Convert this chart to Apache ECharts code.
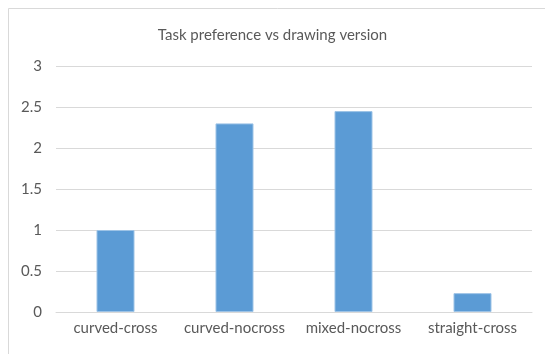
<!DOCTYPE html>
<html>
<head>
<meta charset="utf-8">
<script src="https://cdn.jsdelivr.net/npm/echarts@6/dist/echarts.min.js"></script>
<style>
  html, body { margin: 0; padding: 0; background: #fff; }
  #chart { width: 545px; height: 354px; }
</style>
</head>
<body>
<div id="chart"></div>
<script>
const categories = ['curved-cross', 'curved-nocross', 'mixed-nocross', 'straight-cross'];
const preference = [1.0, 2.3, 2.45, 0.23];
const yTicks = { min: 0, max: 3, interval: 0.5 };

const chart = echarts.init(document.getElementById('chart'));
chart.setOption({
  animation: false,
  backgroundColor: '#fff',
  graphic: [{
    type: 'rect',
    shape: { x: 8.5, y: 8.5, width: 560, height: 360 },
    style: { fill: 'none', stroke: '#d9d9d9', lineWidth: 1 },
    silent: true
  }],
  title: {
    text: 'Task preference vs drawing version',
    left: 'center',
    top: 23,
    textStyle: { fontFamily: 'Lato', fontSize: 15, fontWeight: 'normal', color: '#595959' }
  },
  grid: { left: 56, right: 13, top: 66, bottom: 42 },
  xAxis: {
    type: 'category',
    data: categories,
    axisLine: { lineStyle: { color: '#d9d9d9' } },
    axisTick: { show: false },
    axisLabel: { interval: 0, hideOverlap: false, fontFamily: 'Lato', fontSize: 15, color: '#595959', margin: 9 }
  },
  yAxis: {
    type: 'value',
    min: yTicks.min,
    max: yTicks.max,
    interval: yTicks.interval,
    axisLine: { show: false },
    axisTick: { show: false },
    splitLine: { lineStyle: { color: '#d9d9d9' } },
    axisLabel: { fontFamily: 'Lato', fontSize: 15, color: '#595959', margin: 14 }
  },
  series: [{
    type: 'bar',
    data: preference,
    barWidth: 38,
    itemStyle: { color: '#5b9bd5', borderColor: '#9dc3e6', borderWidth: 1 }
  }]
});
</script>
</body>
</html>
